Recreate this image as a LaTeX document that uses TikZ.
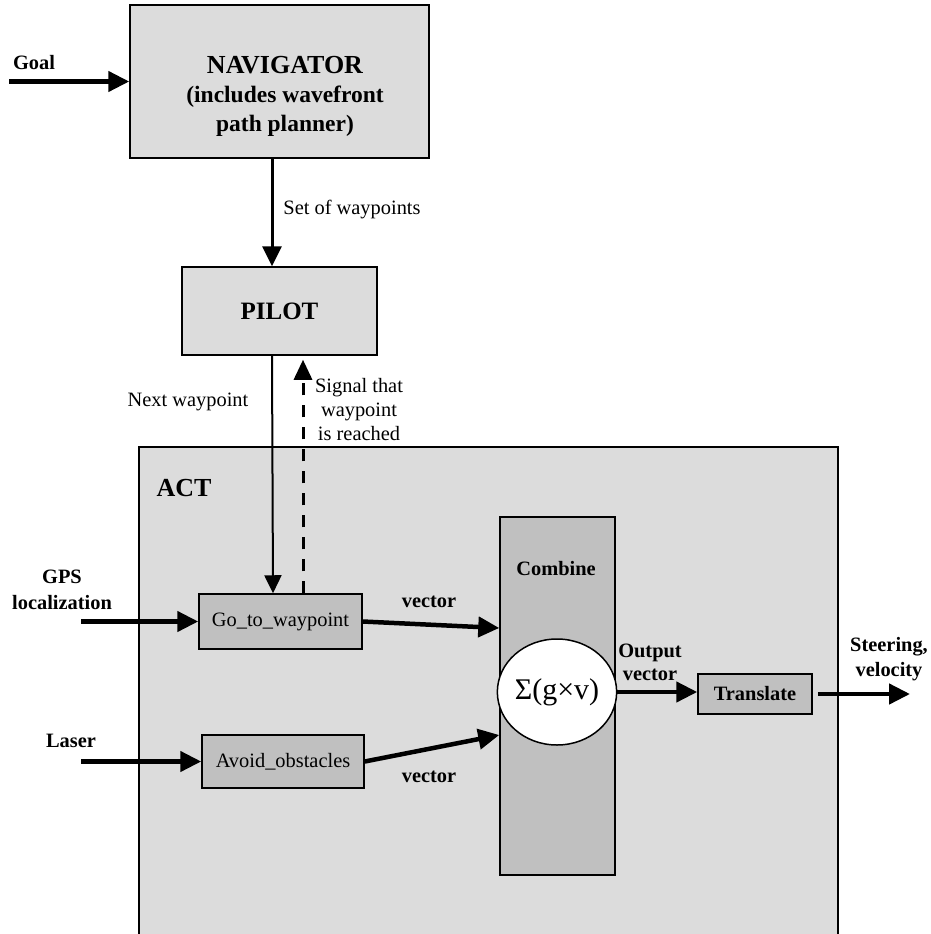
\documentclass[tikz,border=0pt]{standalone}
\usepackage{fontspec}
\setmainfont{Liberation Serif}
\usetikzlibrary{arrows.meta,shapes.geometric}
\definecolor{lightbox}{HTML}{DCDCDC}
\definecolor{darkbox}{HTML}{C0C0C0}
\begin{document}
\begin{tikzpicture}[x=1pt,y=-1pt,
  lbl/.style={font=\fontsize{20.4}{24}\selectfont, inner sep=0pt, align=center},
  blbl/.style={font=\fontsize{20.4}{24}\selectfont\bfseries, inner sep=0pt, align=center},
  lightboxst/.style={draw=black, fill=lightbox, line width=1.5pt, inner sep=0pt},
  darkboxst/.style={draw=black, fill=darkbox, line width=1.5pt, inner sep=0pt},
  bigarr/.style={line width=4.5pt, -{Triangle[length=21pt,width=20pt]}},
  midarr/.style={line width=3pt, -{Triangle[length=20pt,width=19pt]}},
  thinarr/.style={line width=2pt, -{Triangle[length=18pt,width=17pt]}},
  dasharr/.style={line width=3pt, dash pattern=on 12pt off 10pt, -{Triangle[length=20pt,width=18pt]}}
]
\useasboundingbox (0,0) rectangle (931,934);

% top boxes
\node[lightboxst, minimum width=299pt, minimum height=153pt] (nav) at (279.5,81.5) {};
\node[font=\fontsize{23.5}{29}\selectfont\bfseries, inner sep=0pt, align=center] (navtext) at (285,96)
  {{\fontsize{26}{29}\selectfont NAVIGATOR}\\
   (includes wavefront\\
   path planner)};
\node[lightboxst, minimum width=195pt, minimum height=88pt,
      font=\fontsize{25}{28}\selectfont\bfseries] (pilot) at (279.5,311) {PILOT};

% ACT container (runs off the bottom)
\begin{scope}
  \clip (0,0) rectangle (931,934);
  \node[lightboxst, minimum width=699pt, minimum height=520pt, anchor=north west] (act) at (138,446) {};
\end{scope}
\node[font=\fontsize{26}{28}\selectfont\bfseries, inner sep=0pt] (actlbl) at (184,488) {ACT};

% inner boxes
\node[darkboxst, minimum width=163pt, minimum height=55pt, lbl] (go) at (280.5,621.5) {Go\_to\_waypoint};
\node[darkboxst, minimum width=162pt, minimum height=53pt, lbl] (avoid) at (283,761.5) {Avoid\_obstacles};
\node[darkboxst, minimum width=115pt, minimum height=358pt] (comb) at (557.5,696) {};
\node[blbl] (combtext) at (556,569) {Combine};
\node[ellipse, draw=black, fill=white, line width=1.5pt, minimum width=100pt, minimum height=106pt,
      inner sep=0pt, font=\fontsize{30}{32}\selectfont] (circ) at (557,692) {Σ(g×v)};
\node[darkboxst, minimum width=114pt, minimum height=40pt, blbl] (trans) at (755,694) {Translate};

% free ends
\coordinate (goalstart) at (9,81.5);
\coordinate (gpsstart) at (81,621.5);
\coordinate (laserstart) at (81,761.5);
\coordinate (steerend) at (910,694);

% connectors
\draw[bigarr] (goalstart) -- (nav.west);
\draw[midarr] ([xshift=-7.5pt]nav.south) -- ([xshift=-7.5pt]pilot.north);
\draw[thinarr] ([xshift=-7.5pt]pilot.south) -- ([xshift=-7.5pt]go.north);
\draw[dasharr] ([xshift=22.5pt]go.north) -- ([xshift=23.5pt,yshift=-4pt]pilot.south);
\draw[bigarr] (gpsstart) -- (go.west);
\draw[bigarr] (laserstart) -- (avoid.west);
\draw[bigarr] (go.east) -- ([yshift=68pt]comb.west);
\draw[bigarr] (avoid.east) -- ([yshift=-39pt]comb.west);
\draw[bigarr] (circ.east) -- (circ.east -| trans.west);
\draw[bigarr] ([xshift=5pt]trans.east) -- (steerend);

% labels
\node[blbl] (goallbl) at (34,63) {Goal};
\node[lbl] (setlbl) at (352,210) {Set of waypoints};
\node[lbl] (nextlbl) at (188,402) {Next waypoint};
\node[lbl] (siglbl) at (359,410) {Signal that\\waypoint\\is reached};
\node[blbl, font=\fontsize{20.4}{26}\selectfont\bfseries] (gpslbl) at (62,590) {GPS\\localization};
\node[blbl] (laserlbl) at (71,741) {Laser};
\node[blbl] (vec1) at (429,602) {vector};
\node[blbl] (vec2) at (429,777) {vector};
\node[blbl, font=\fontsize{20.4}{23}\selectfont\bfseries] (outlbl) at (650,662) {Output\\vector};
\node[blbl, font=\fontsize{20.4}{25}\selectfont\bfseries] (steerlbl) at (889,659) {Steering,\\velocity};
\end{tikzpicture}
\end{document}
